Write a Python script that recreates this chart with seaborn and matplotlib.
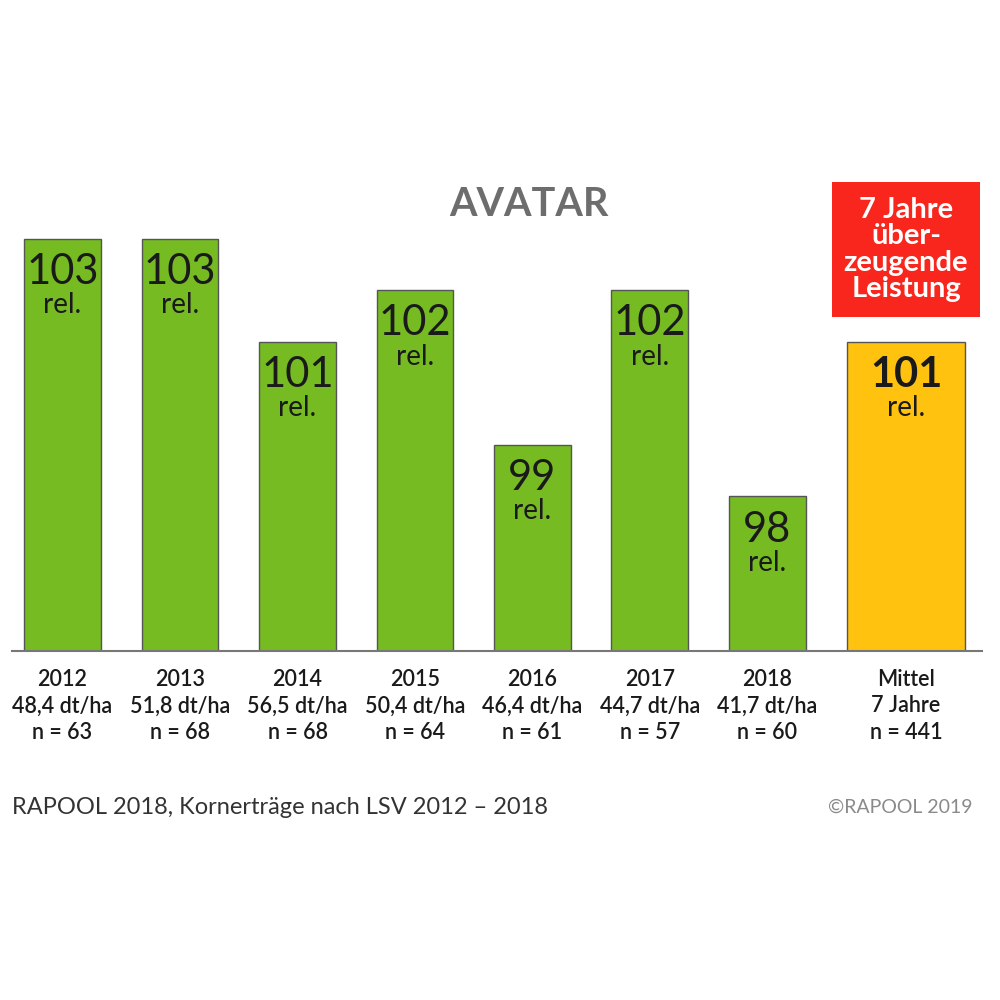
import seaborn as sns
import matplotlib.pyplot as plt
import pandas as pd
from matplotlib.patches import Rectangle

# data
years = ["2012", "2013", "2014", "2015", "2016", "2017", "2018", "Mittel"]
rel_values = [103, 103, 101, 102, 99, 102, 98, 101]
yields = ["48,4 dt/ha", "51,8 dt/ha", "56,5 dt/ha", "50,4 dt/ha",
          "46,4 dt/ha", "44,7 dt/ha", "41,7 dt/ha", "7 Jahre"]
n_trials = [63, 68, 68, 64, 61, 57, 60, 441]

GREEN = "#76bb21"
YELLOW = "#ffc20e"
RED = "#f8261c"

sns.set_style("white")
plt.rcParams["font.family"] = ["Lato", "DejaVu Sans"]

df = pd.DataFrame({"year": years, "rel": rel_values})
colors = [GREEN] * 7 + [YELLOW]

fig = plt.figure(figsize=(10, 10), dpi=100)
ax = fig.add_axes([0.012, 0.349, 0.970, 0.481])

sns.barplot(data=df, x="year", y="rel", hue="year", palette=colors,
            legend=False, width=0.655, edgecolor="#555555", linewidth=1,
            saturation=1, ax=ax)

# the mean bar sits a bit further right and is wider
mittel_pos = 7.18
mittel_patch = ax.patches[7]
mittel_patch.set_x(mittel_pos - 0.5)
mittel_patch.set_width(1.0)

ax.set_ylim(95, 104.33)
ax.set_xlim(-0.43, 7.826)

positions = list(range(7)) + [mittel_pos]
for i, (pos, val) in enumerate(zip(positions, rel_values)):
    last = i == 7
    ax.annotate(str(val), (pos, val), xytext=(0, -24), textcoords="offset points",
                ha="center", va="center", fontsize=30,
                fontweight="bold" if last else "normal",
                color="#1a1a1a")
    ax.annotate("rel.", (pos, val), xytext=(0, -48), textcoords="offset points",
                ha="center", va="center", fontsize=20, fontweight="normal",
                color="#1a1a1a")

tick_labels = [f"{y}\n{d}\nn = {n}" for y, d, n in zip(years, yields, n_trials)]
ax.set_xticks(positions)
ax.set_xticklabels(tick_labels, fontsize=15.5, fontweight="semibold",
                   linespacing=1.32, color="#1a1a1a")
ax.tick_params(axis="x", length=0, pad=13)
ax.set_yticks([])
ax.set_xlabel("")
ax.set_ylabel("")

for side in ["top", "left", "right"]:
    ax.spines[side].set_visible(False)
ax.spines["bottom"].set_color("#777777")
ax.spines["bottom"].set_linewidth(1.5)

fig.text(0.529, 0.796, "AVATAR", ha="center", va="center", fontsize=28.5,
         fontweight="bold", color="#6d6d6d")

fig.patches.append(Rectangle((0.832, 0.683), 0.148, 0.135, transform=fig.transFigure,
                             facecolor=RED, edgecolor="none"))
fig.text(0.906, 0.7505, "7 Jahre\nüber-\nzeugende\nLeistung", ha="center", va="center",
         fontsize=21, fontweight="bold", color="white", linespacing=1.0)

fig.text(0.012, 0.193, "RAPOOL 2018, Kornerträge nach LSV 2012 – 2018", ha="left",
         va="center", fontsize=17, color="#333333")
fig.text(0.973, 0.193, "©RAPOOL 2019", ha="right", va="center", fontsize=14,
         color="#8a8a8a")

fig.savefig("out.png", dpi=100, facecolor="white")
